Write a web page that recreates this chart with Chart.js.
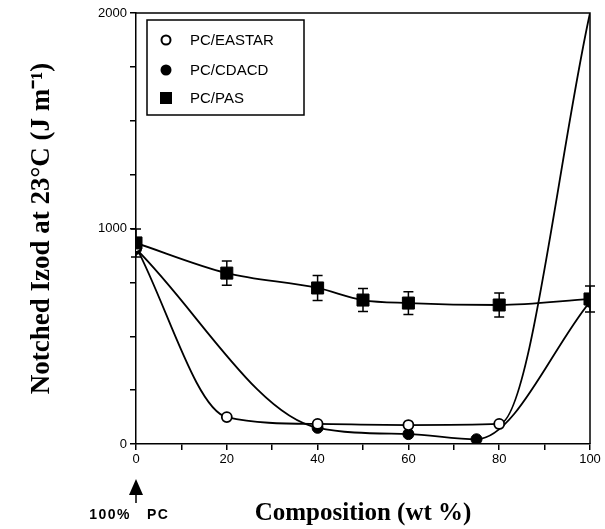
<!DOCTYPE html>
<html>
<head>
<meta charset="utf-8">
<script src="https://cdn.jsdelivr.net/npm/chart.js@4"></script>
<style>
body{margin:0;background:#fff;}
#wrap{width:605px;height:529px;}
</style>
</head>
<body>
<div id="wrap"><canvas id="myChart"></canvas></div>
<script>
// values: composition (wt %) vs notched izod (J/m)
let eastarX = [0, 20, 40, 60, 80, 100];
let eastarY = [915, 125, 93, 88, 93, 2000];
let cdacdX = [0, 40, 60, 75, 100];
let cdacdY = [905, 75, 46, 22, 660];
let pasX = [0, 20, 40, 50, 60, 80, 100];
let pasY = [933, 793, 724, 668, 654, 645, 673];
let pasErr = [65, 56, 58, 53, 53, 56, 60];
let seriesNames = ['PC/EASTAR', 'PC/CDACD', 'PC/PAS'];

function toPoints(xs, ys){
	let pts = [];
	xs.forEach(function(x, i){
		pts.push({x: x, y: ys[i]});
	});
	return pts;
}

// error bars on the PAS series
const errorBars = {
	id: 'errorBars',
	beforeDatasetsDraw(chart){
		let ctx = chart.ctx;
		let xs = chart.scales.x, ys = chart.scales.y;
		ctx.save();
		ctx.strokeStyle = '#000';
		ctx.lineWidth = 1.5;
		pasX.forEach(function(x, i){
			let px = xs.getPixelForValue(x);
			let top = ys.getPixelForValue(pasY[i] + pasErr[i]);
			let bot = ys.getPixelForValue(pasY[i] - pasErr[i]);
			ctx.beginPath();
			ctx.moveTo(px, top); ctx.lineTo(px, bot);
			ctx.moveTo(px - 5, top); ctx.lineTo(px + 5, top);
			ctx.moveTo(px - 5, bot); ctx.lineTo(px + 5, bot);
			ctx.stroke();
		});
		ctx.restore();
	}
};

// frame, legend box and the "100% PC" arrow
const extras = {
	id: 'extras',
	afterDraw(chart){
		let ctx = chart.ctx;
		let a = chart.chartArea;
		ctx.save();
		ctx.strokeStyle = '#000';
		ctx.lineWidth = 1.5;
		ctx.beginPath();
		ctx.moveTo(a.left, a.top); ctx.lineTo(a.right, a.top); ctx.lineTo(a.right, a.bottom);
		ctx.stroke();

		// legend
		let lx = a.left + 11, ly = a.top + 7;
		ctx.lineWidth = 1.5;
		ctx.strokeRect(lx, ly, 157, 95);
		ctx.font = '15px "Liberation Sans", Arial, sans-serif';
		ctx.textBaseline = 'middle';
		ctx.fillStyle = '#000';
		let rows = [ly + 20, ly + 50, ly + 78];
		let sx = lx + 19;
		ctx.beginPath();
		ctx.arc(sx, rows[0], 4.5, 0, Math.PI * 2);
		ctx.lineWidth = 2;
		ctx.stroke();
		ctx.beginPath();
		ctx.arc(sx, rows[1], 5.5, 0, Math.PI * 2);
		ctx.fill();
		ctx.fillRect(sx - 6, rows[2] - 6, 12, 12);
		seriesNames.forEach(function(name, i){
			ctx.fillText(name, lx + 43, rows[i] + 1);
		});

		// arrow pointing at 0 wt %
		let x0 = chart.scales.x.getPixelForValue(0);
		let tip = a.bottom + 35;
		ctx.beginPath();
		ctx.moveTo(x0, tip);
		ctx.lineTo(x0 - 7, tip + 16);
		ctx.lineTo(x0 + 7, tip + 16);
		ctx.closePath();
		ctx.fill();
		ctx.lineWidth = 1.5;
		ctx.beginPath();
		ctx.moveTo(x0, tip + 10); ctx.lineTo(x0, tip + 24);
		ctx.stroke();
		ctx.font = 'bold 14px "Liberation Sans", Arial, sans-serif';
		ctx.letterSpacing = '1.5px';
		ctx.textAlign = 'right';
		ctx.fillText('100%', x0 - 5, tip + 36);
		ctx.textAlign = 'left';
		ctx.fillText('PC', x0 + 11, tip + 36);
		ctx.restore();
	}
};

let tickFont = {family: '"Liberation Sans", Arial, sans-serif', size: 13};
let titleFont = {family: '"Liberation Serif", "Times New Roman", serif', size: 25, weight: 'bold'};
let yTitleFont = {family: '"Liberation Serif", "Times New Roman", serif', size: 27, weight: 'bold'};

let ctx = document.getElementById('myChart').getContext('2d');
let chart = new Chart(ctx, {
	type: 'scatter',
	data: {
		datasets: [{
			label: seriesNames[2],
			data: toPoints(pasX, pasY),
			pointStyle: 'rect',
			pointRadius: 8.5,
			backgroundColor: '#000',
			borderColor: '#000'
		}, {
			label: seriesNames[0],
			data: toPoints(eastarX, eastarY),
			pointStyle: 'circle',
			// the last point sits at the top edge, no marker shown there
			pointRadius: [5, 5, 5, 5, 5, 0],
			pointBackgroundColor: '#fff',
			pointBorderWidth: 1.8,
			borderColor: '#000'
		}, {
			label: seriesNames[1],
			data: toPoints(cdacdX, cdacdY),
			pointStyle: 'circle',
			pointRadius: 5.5,
			backgroundColor: '#000',
			borderColor: '#000'
		}]
	},
	options: {
		responsive: true,
		maintainAspectRatio: false,
		animation: false,
		devicePixelRatio: 1,
		showLine: true,
		layout: {padding: {top: 13, right: 15, left: 0, bottom: 0}},
		elements: {
			line: {borderWidth: 1.8, tension: 0.4, cubicInterpolationMode: 'monotone', borderColor: '#000'}
		},
		plugins: {
			legend: {display: false},
			tooltip: {enabled: false}
		},
		scales: {
			x: {
				type: 'linear',
				min: 0, max: 100,
				afterFit: s => { s.height = 85; },
				grid: {drawOnChartArea: false, drawTicks: true, tickLength: 6, color: '#000', lineWidth: 1.5},
				border: {display: true, color: '#000', width: 1.5},
				ticks: {
					stepSize: 10, color: '#000', font: tickFont, padding: 2, maxRotation: 0,
					callback: v => v % 20 === 0 ? v : ''
				},
				title: {display: true, text: 'Composition (wt %)', color: '#000', font: titleFont, padding: {top: 0, bottom: 0}}
			},
			y: {
				min: 0, max: 2000,
				afterFit: s => { s.width = 136; },
				grid: {drawOnChartArea: false, drawTicks: true, tickLength: 6, color: '#000', lineWidth: 1.5},
				border: {display: true, color: '#000', width: 1.5},
				ticks: {
					stepSize: 250, color: '#000', font: tickFont, padding: 3,
					callback: v => v % 1000 === 0 ? v : ''
				},
				title: {display: true, text: 'Notched Izod at 23°C (J m⁻¹)', color: '#000', font: yTitleFont, padding: {top: 26, bottom: 0}}
			}
		}
	},
	plugins: [errorBars, extras]
});
</script>
</body>
</html>
